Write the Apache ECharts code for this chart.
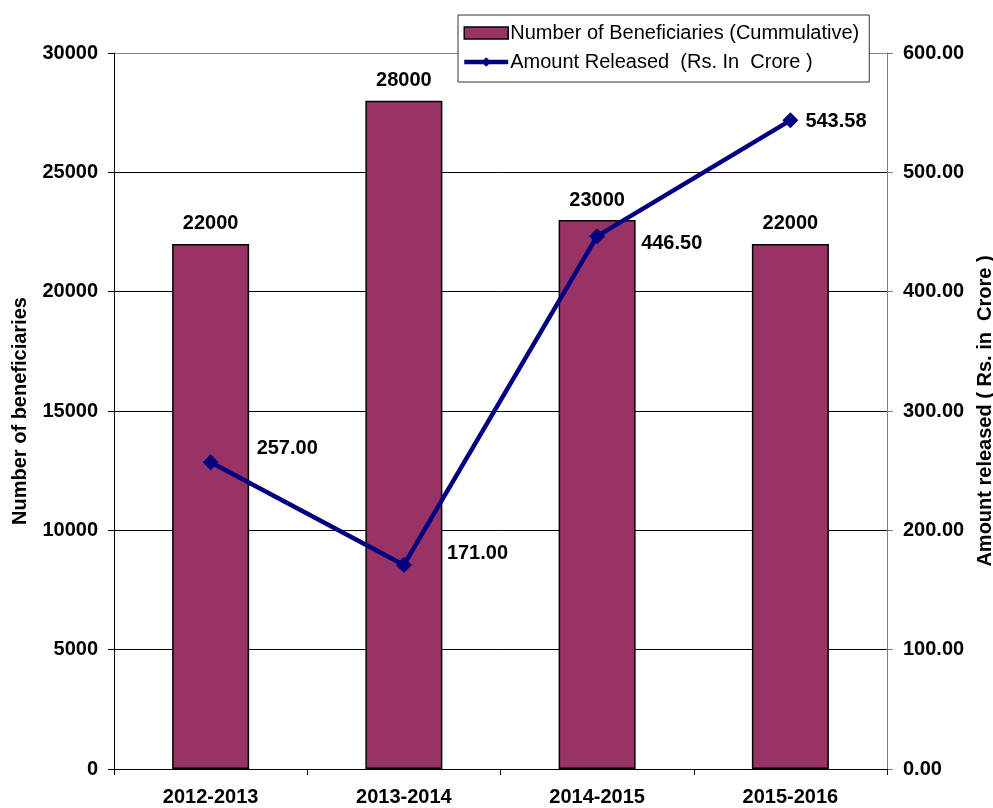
<!DOCTYPE html>
<html>
<head>
<meta charset="utf-8">
<title>Beneficiaries and Amount Released</title>
<script src="https://cdn.jsdelivr.net/npm/echarts@6/dist/echarts.min.js"></script>
<style>
  html, body { margin: 0; padding: 0; background: #fff; }
  #chart { width: 993px; height: 808px; }
</style>
</head>
<body>
<div id="chart"></div>
<script>
// Financial years on the category axis
const years = ['2012-2013', '2013-2014', '2014-2015', '2015-2016'];
// Number of beneficiaries (cumulative)
const beneficiaries = [22000, 28000, 23000, 22000];
// Amount released, Rs. in crore
const amountReleased = [257.00, 171.00, 446.50, 543.58];

const leftTicks = { min: 0, max: 30000, interval: 5000 };
const rightTicks = { min: 0, max: 600, interval: 100 };

// Per-point nudges of the amount labels (dx, dy), relative to the marker's right side
const amountLabelNudge = [[38, -14], [35, -11], [36, 7], [7, 1]];

const FONT = '"Liberation Sans", Arial, sans-serif';
const boldText = { fontFamily: FONT, fontWeight: 'bold', fontSize: 20, color: '#000' };

const chart = echarts.init(document.getElementById('chart'), null, { renderer: 'canvas' });

chart.setOption({
  animation: false,
  backgroundColor: '#fff',
  grid: {
    left: 114, right: 106, top: 53, bottom: 39,
    containLabel: false,
    outerBoundsMode: 'none'
  },
  legend: {
    left: 458,
    top: 15,
    orient: 'vertical',
    backgroundColor: '#fff',
    borderColor: '#333',
    borderWidth: 1,
    borderRadius: 0,
    padding: [8, 10, 10, 4],
    itemGap: 9,
    itemWidth: 44,
    itemHeight: 12,
    textStyle: { fontFamily: FONT, fontSize: 20, color: '#000', padding: [0, 0, 0, -3] },
    data: [
      {
        name: 'Number of Beneficiaries (Cummulative)',
        icon: 'rect',
        itemStyle: { borderColor: '#000', borderWidth: 1.5 }
      },
      {
        name: 'Amount Released  (Rs. In  Crore )',
        lineStyle: { width: 4.5 }
      }
    ]
  },
  xAxis: {
    type: 'category',
    data: years,
    axisLine: { lineStyle: { color: '#000', width: 1 } },
    axisTick: { show: true, length: 6, alignWithLabel: false, lineStyle: { color: '#000' } },
    axisLabel: Object.assign({ margin: 18 }, boldText),
    splitLine: { show: false }
  },
  yAxis: [
    {
      type: 'value',
      min: leftTicks.min,
      max: leftTicks.max,
      interval: leftTicks.interval,
      name: 'Number of beneficiaries',
      nameLocation: 'middle',
      nameGap: 84,
      nameTextStyle: boldText,
      axisLine: { show: true, lineStyle: { color: '#000', width: 1 } },
      axisTick: { show: true, length: 6, lineStyle: { color: '#000' } },
      axisLabel: Object.assign({ margin: 16, formatter: v => String(v) }, boldText),
      splitLine: {
        show: true,
        lineStyle: { color: ['#000', '#000', '#000', '#000', '#000', '#000', '#888'], width: 1 }
      }
    },
    {
      type: 'value',
      position: 'right',
      min: rightTicks.min,
      max: rightTicks.max,
      interval: rightTicks.interval,
      name: 'Amount released ( Rs. in  Crore )',
      nameLocation: 'middle',
      nameGap: 86,
      nameTextStyle: boldText,
      axisLine: { show: true, lineStyle: { color: '#808080', width: 1 } },
      axisTick: { show: true, length: 6, lineStyle: { color: '#808080' } },
      axisLabel: Object.assign({ margin: 16, formatter: v => v.toFixed(2) }, boldText),
      splitLine: { show: false }
    }
  ],
  series: [
    {
      name: 'Number of Beneficiaries (Cummulative)',
      type: 'bar',
      yAxisIndex: 0,
      data: beneficiaries,
      barWidth: 77,
      itemStyle: { color: '#993366', borderColor: '#000', borderWidth: 1.5 },
      label: Object.assign({ show: true, position: 'top', distance: 10 }, boldText),
      z: 2
    },
    {
      name: 'Amount Released  (Rs. In  Crore )',
      type: 'line',
      yAxisIndex: 1,
      data: amountReleased.map((v, i) => ({
        value: v,
        label: { offset: amountLabelNudge[i] }
      })),
      symbol: 'diamond',
      symbolSize: 16,
      lineStyle: { color: '#000080', width: 4.5 },
      itemStyle: { color: '#000080' },
      label: Object.assign({
        show: true,
        position: 'right',
        distance: 0,
        formatter: p => p.value.toFixed(2)
      }, boldText),
      z: 5
    }
  ]
});
</script>
</body>
</html>
